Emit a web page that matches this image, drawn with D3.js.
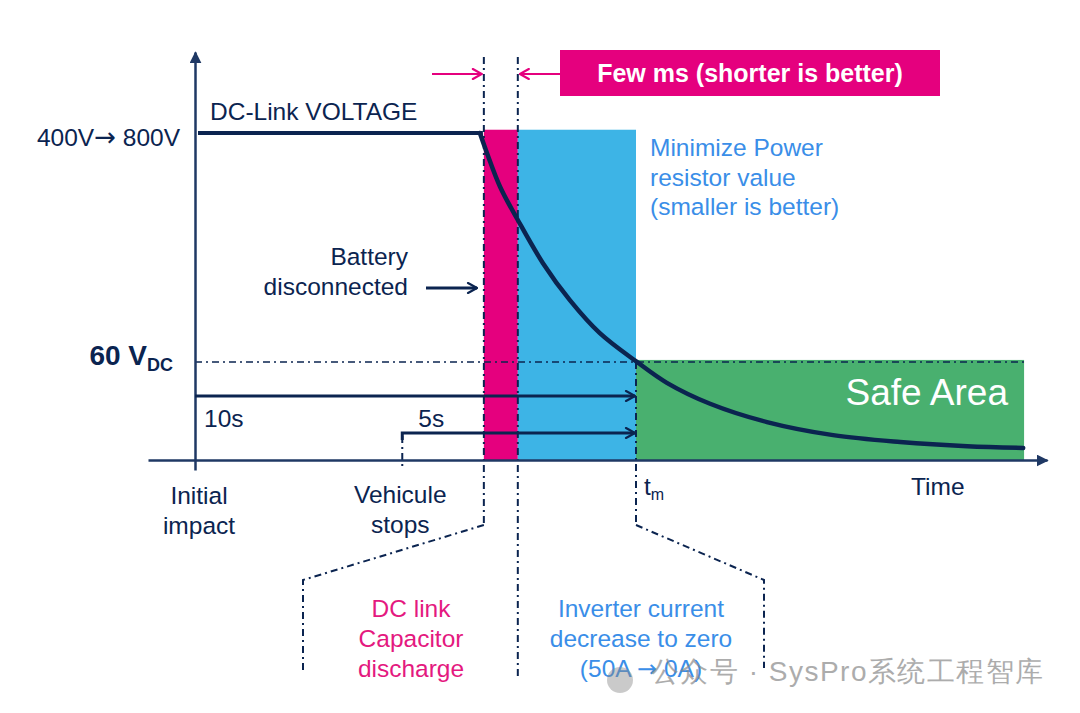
<!DOCTYPE html>
<html lang="en">
<head>
<meta charset="UTF-8">
<title>DC-Link discharge</title>
<script src="https://cdn.jsdelivr.net/npm/d3@7"></script>
<style>
  body { margin: 0; background: #fff; }
  svg text { font-family: "Liberation Sans", Arial, sans-serif; }
</style>
</head>
<body>
<script>
// schematic time units: 0 = initial impact, 100 = t_m
var eventNames = ["impact", "stops", "disconnect", "switch", "tm", "end"];
var eventTimes = [0, 47, 65.5, 73.2, 100, 188];
// voltage level (0..100, 100 = 400V/800V bus)
var levelNames = ["bus", "safe"];
var levelValues = [100, 30];
// DC-link voltage trace
var curveT = [0, 64.6, 66.2, 69.2, 73.2, 78.9, 85.0, 91.8, 100.2, 107.0, 116.8, 129.7, 144.7, 159.9, 175.1, 187.8];
var curveV = [100, 100, 93.9, 83.5, 73.4, 60.2, 48.9, 38.8, 30, 23.6, 17.2, 11.6, 7.6, 5.5, 4.2, 3.7];
// durations shown by the arrows
var spanLabels = ["10s", "5s"];
var spanStart = ["impact", "stops"];

var width = 1080, height = 713;
var navy = "#0b2450", axisCol = "#1f3864";
var pink = "#e5007e", blue = "#3db4e6", green = "#49b06f";
var blueText = "#3a8ee8", pinkText = "#e4197f";
var fs = 24.5;

var ev = {};
eventNames.forEach(function(n, i){ ev[n] = eventTimes[i]; });
var lv = {};
levelNames.forEach(function(n, i){ lv[n] = levelValues[i]; });

var x = d3.scaleLinear().domain([0, 100]).range([195, 636]);
var y = d3.scaleLinear().domain([0, 100]).range([460, 133]);

var svg = d3.select("body").append("svg").attr("width", width).attr("height", height);

var defs = svg.append("defs");
defs.append("marker").attr("id", "tri").attr("viewBox", "0 0 10 10")
    .attr("refX", 9).attr("refY", 5).attr("markerWidth", 12).attr("markerHeight", 12)
    .attr("markerUnits", "userSpaceOnUse").attr("orient", "auto")
    .append("path").attr("d", "M0,0L10,5L0,10Z").attr("fill", axisCol);
function chevron(id, col){
    defs.append("marker").attr("id", id).attr("viewBox", "0 0 12 12")
        .attr("refX", 11).attr("refY", 6).attr("markerWidth", 12).attr("markerHeight", 12)
        .attr("markerUnits", "userSpaceOnUse").attr("orient", "auto")
        .append("path").attr("d", "M2,1L11,6L2,11").attr("fill", "none")
        .attr("stroke", col).attr("stroke-width", 2.2).attr("stroke-linecap", "round");
}
chevron("chev", navy);
chevron("chevPink", pink);

var dashDot = "7,4,2,4";

// coloured areas
var boxTop = 101;
svg.append("rect").attr("x", x(ev.disconnect)).attr("y", y(boxTop))
    .attr("width", x(ev["switch"]) - x(ev.disconnect)).attr("height", y(0) - y(boxTop)).attr("fill", pink);
svg.append("rect").attr("x", x(ev["switch"])).attr("y", y(boxTop))
    .attr("width", x(ev.tm) - x(ev["switch"])).attr("height", y(0) - y(boxTop)).attr("fill", blue);
svg.append("rect").attr("x", x(ev.tm)).attr("y", y(lv.safe + 0.6))
    .attr("width", x(ev.end) - x(ev.tm)).attr("height", y(0) - y(lv.safe + 0.6)).attr("fill", green);

// 60V dash-dot line
svg.append("line").attr("x1", x(0)).attr("x2", x(ev.end)).attr("y1", y(lv.safe)).attr("y2", y(lv.safe))
    .attr("stroke", navy).attr("stroke-width", 1.5).attr("stroke-dasharray", dashDot);

// vertical dash-dot markers
function vline(t, y1, y2){
    svg.append("line").attr("x1", x(t)).attr("x2", x(t)).attr("y1", y1).attr("y2", y2)
        .attr("stroke", navy).attr("stroke-width", 2).attr("stroke-dasharray", dashDot);
}
vline(ev.disconnect, 57, 525);
vline(ev["switch"], 57, 678);
vline(ev.tm, y(lv.safe), 525);
vline(ev.stops, 436, 470);

// brackets below the axis
function bracket(pts){
    svg.append("path").attr("d", d3.line()(pts)).attr("fill", "none")
        .attr("stroke", navy).attr("stroke-width", 2).attr("stroke-dasharray", dashDot);
}
bracket([[x(ev.disconnect), 525], [303, 580], [303, 672]]);
bracket([[x(ev.tm), 525], [764, 580], [764, 668]]);

// axes (no ticks, just the arrowed domain lines)
var xAxis = d3.axisBottom(d3.scaleLinear().domain([-10.7, 193.4]).range([148, 1047]))
    .tickValues([]).tickSizeOuter(0);
svg.append("g").attr("transform", "translate(0," + y(0) + ")").call(xAxis)
    .select(".domain").attr("stroke", axisCol).attr("stroke-width", 2.5).attr("marker-end", "url(#tri)");
var yAxis = d3.axisLeft(d3.scaleLinear().domain([-3, 124.5]).range([470, 52]))
    .tickValues([]).tickSizeOuter(0);
svg.append("g").attr("transform", "translate(" + x(0) + ",0)").call(yAxis)
    .select(".domain").attr("stroke", axisCol).attr("stroke-width", 2.5).attr("marker-end", "url(#tri)");
svg.selectAll(".domain").attr("fill", "none");

// voltage trace
var pts = curveT.map(function(t, i){ return [t, curveV[i]]; });
svg.append("path").datum(pts.slice(0, 2))
    .attr("d", d3.line().x(function(d){ return x(d[0]) + 3; }).y(function(d){ return y(d[1]); }))
    .attr("fill", "none").attr("stroke", navy).attr("stroke-width", 4);
svg.append("path").datum(pts.slice(1))
    .attr("d", d3.line().x(function(d){ return x(d[0]); }).y(function(d){ return y(d[1]); }).curve(d3.curveCatmullRom.alpha(0.5)))
    .attr("fill", "none").attr("stroke", navy).attr("stroke-width", 4.5).attr("stroke-linecap", "round");

// duration arrows
var spanY = [396, 433];
spanLabels.forEach(function(lab, i){
    var x0 = x(ev[spanStart[i]]);
    var p = i === 0 ? [[x0, spanY[i]], [x(ev.tm) - 1, spanY[i]]]
                    : [[x0, spanY[i] + 7], [x0, spanY[i]], [x(ev.tm) - 1, spanY[i]]];
    svg.append("path").attr("d", d3.line()(p)).attr("fill", "none")
        .attr("stroke", navy).attr("stroke-width", 3).attr("marker-end", "url(#chev)");
    svg.append("text").attr("x", x0 + (i === 0 ? 9 : 16)).attr("y", 427)
        .attr("font-size", fs).attr("fill", navy).text(lab);
});

// battery disconnected arrow
svg.append("line").attr("x1", 426).attr("x2", 477).attr("y1", 288).attr("y2", 288)
    .attr("stroke", navy).attr("stroke-width", 3).attr("marker-end", "url(#chev)");
svg.append("text").attr("text-anchor", "end").attr("font-size", fs).attr("fill", navy)
    .selectAll("tspan").data(["Battery", "disconnected"]).join("tspan")
    .attr("x", 408).attr("y", function(d, i){ return 265 + i * 30; }).text(function(d){ return d; });

// few ms banner
svg.append("rect").attr("x", 560).attr("y", 50).attr("width", 380).attr("height", 46).attr("fill", pink);
svg.append("text").attr("x", 750).attr("y", 82).attr("text-anchor", "middle").attr("font-size", 25)
    .attr("font-weight", "bold").attr("fill", "#fff").text("Few ms (shorter is better)");
svg.append("line").attr("x1", 432).attr("x2", x(ev.disconnect) - 2).attr("y1", 74).attr("y2", 74)
    .attr("stroke", pink).attr("stroke-width", 2.2).attr("marker-end", "url(#chevPink)");
svg.append("line").attr("x1", 560).attr("x2", x(ev["switch"]) + 2).attr("y1", 74).attr("y2", 74)
    .attr("stroke", pink).attr("stroke-width", 2.2).attr("marker-end", "url(#chevPink)");

// labels
svg.append("text").attr("x", 210).attr("y", 120).attr("font-size", fs).attr("fill", navy).text("DC-Link VOLTAGE");
var busLab = svg.append("text").attr("x", 180).attr("y", y(lv.bus) + 13).attr("text-anchor", "end")
    .attr("font-size", fs).attr("fill", navy);
busLab.append("tspan").text("400V");
busLab.append("tspan").attr("font-family", "'DejaVu Sans', sans-serif").attr("font-size", 26).text("\u2192");
busLab.append("tspan").text(" 800V");
var v60 = svg.append("text").attr("x", 173).attr("y", 365).attr("text-anchor", "end")
    .attr("font-size", 28).attr("font-weight", "bold").attr("fill", navy);
v60.append("tspan").text("60 V");
v60.append("tspan").attr("dy", 6).attr("font-size", 18).text("DC");

svg.append("text").attr("font-size", fs).attr("fill", blueText)
    .selectAll("tspan").data(["Minimize Power", "resistor value", "(smaller is better)"]).join("tspan")
    .attr("x", 650).attr("y", function(d, i){ return 156 + i * 29.5; }).text(function(d){ return d; });

svg.append("text").attr("x", 1008).attr("y", 405).attr("text-anchor", "end")
    .attr("font-size", 37).attr("fill", "#fff").text("Safe Area");

function centred(lines, cx, y0, col){
    svg.append("text").attr("text-anchor", "middle").attr("font-size", fs).attr("fill", col)
        .selectAll("tspan").data(lines).join("tspan")
        .attr("x", cx).attr("y", function(d, i){ return y0 + i * 30; }).text(function(d){ return d; });
}
centred(["Initial", "impact"], x(ev.impact) + 4, 504, navy);
centred(["Vehicule", "stops"], x(ev.stops) - 2, 503, navy);
var tm = svg.append("text").attr("x", x(ev.tm) + 8).attr("y", 495).attr("font-size", fs).attr("fill", navy);
tm.append("tspan").text("t");
tm.append("tspan").attr("dy", 5).attr("font-size", 16).text("m");
svg.append("text").attr("x", 911).attr("y", 495).attr("font-size", fs).attr("fill", navy).text("Time");

centred(["DC link", "Capacitor", "discharge"], 411, 617, pinkText);
centred(["Inverter current", "decrease to zero"], 641, 617, blueText);
var lastLine = svg.append("text").attr("x", 641).attr("y", 677).attr("text-anchor", "middle")
    .attr("font-size", fs).attr("fill", blueText);
lastLine.append("tspan").text("(50A ");
lastLine.append("tspan").attr("font-family", "'DejaVu Sans', sans-serif").attr("font-size", 24).text("\u2192");
lastLine.append("tspan").text(" 0A)");

// watermark
svg.append("circle").attr("cx", 620).attr("cy", 680).attr("r", 13).attr("fill", "#8a8a8a").attr("opacity", 0.45);
svg.append("text").attr("x", 1045).attr("y", 681).attr("text-anchor", "end")
    .attr("font-family", "'Noto Sans CJK SC', sans-serif").attr("font-size", 28).attr("letter-spacing", 1.5)
    .attr("fill", "#8a8a8a").attr("opacity", 0.7).text("公众号 · SysPro系统工程智库");
</script>
</body>
</html>
